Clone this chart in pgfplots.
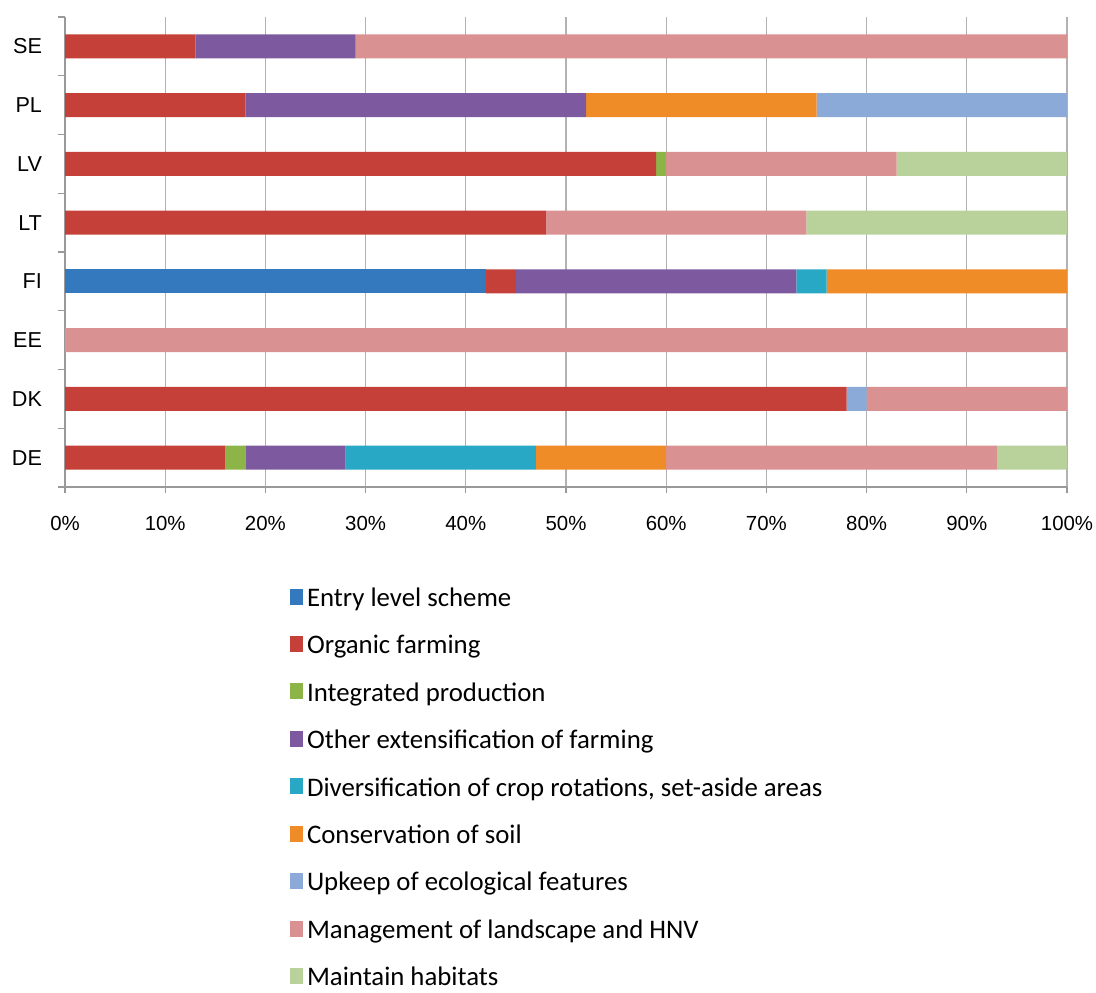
\documentclass[border=0pt]{standalone}
\usepackage{pgfplots}
\pgfplotsset{compat=1.18}
\usepackage{fontspec}
\setmainfont{Liberation Sans}
\newfontfamily\legfont{Carlito}
\definecolor{cEntry}{RGB}{52,120,190}
\definecolor{cOrg}{RGB}{196,64,56}
\definecolor{cInt}{RGB}{140,180,70}
\definecolor{cOth}{RGB}{125,90,160}
\definecolor{cDiv}{RGB}{40,168,196}
\definecolor{cSoil}{RGB}{240,140,40}
\definecolor{cUpk}{RGB}{140,170,215}
\definecolor{cLand}{RGB}{218,145,145}
\definecolor{cHab}{RGB}{185,210,155}
\begin{document}
\begin{tikzpicture}
\path[use as bounding box] (-32.5pt,-252.5pt) rectangle (515.5pt,243.5pt);
\begin{axis}[at={(0,0)}, anchor=south west, scale only axis,
  width=501pt, height=235pt,
  xbar stacked, bar width=12pt,
  xmin=0, xmax=100, ymin=-0.5, ymax=7.5,
  axis x line*=bottom, axis y line*=left,
  axis line style={draw=gray!80, line width=0.6pt},
  xtick={0,10,...,100},
  /pgf/number format/assume math mode=true,
  xticklabel={\pgfmathprintnumber{\tick}\%},
  xticklabel style={font=\fontsize{10.2}{12}\selectfont, yshift=-8pt},
  ytick={0,...,7}, yticklabels={DE,DK,EE,FI,LT,LV,PL,SE},
  yticklabel style={font=\fontsize{10.8}{12}\selectfont, xshift=-5pt},
  minor ytick={-0.5,0.5,...,7.5},
  major y tick style={draw=none},
  minor y tick style={draw=gray!80, line width=0.6pt},
  major x tick style={draw=gray!80, line width=0.6pt},
  tick align=outside, minor tick length=3.5pt, major tick length=3pt,
  xmajorgrids, grid style={draw=gray!60, line width=0.6pt},
  legend style={at={(0.2186,-0.197)}, anchor=north west, draw=none,
    font=\legfont\fontsize{13.4}{15}\selectfont, row sep=8.9pt,
    cells={anchor=west}},
  legend cell align=left,
  legend image code/.code={\fill[#1] (0pt,-3pt) rectangle (6.3pt,5pt);},
]
\addplot[fill=cEntry, draw=none] coordinates {(0,0) (0,1) (0,2) (42,3) (0,4) (0,5) (0,6) (0,7)};
\addplot[fill=cOrg, draw=none] coordinates {(16,0) (78,1) (0,2) (3,3) (48,4) (59,5) (18,6) (13,7)};
\addplot[fill=cInt, draw=none] coordinates {(2,0) (0,1) (0,2) (0,3) (0,4) (1,5) (0,6) (0,7)};
\addplot[fill=cOth, draw=none] coordinates {(10,0) (0,1) (0,2) (28,3) (0,4) (0,5) (34,6) (16,7)};
\addplot[fill=cDiv, draw=none] coordinates {(19,0) (0,1) (0,2) (3,3) (0,4) (0,5) (0,6) (0,7)};
\addplot[fill=cSoil, draw=none] coordinates {(13,0) (0,1) (0,2) (24,3) (0,4) (0,5) (23,6) (0,7)};
\addplot[fill=cUpk, draw=none] coordinates {(0,0) (2,1) (0,2) (0,3) (0,4) (0,5) (25,6) (0,7)};
\addplot[fill=cLand, draw=none] coordinates {(33,0) (20,1) (100,2) (0,3) (26,4) (23,5) (0,6) (71,7)};
\addplot[fill=cHab, draw=none] coordinates {(7,0) (0,1) (0,2) (0,3) (26,4) (17,5) (0,6) (0,7)};
\legend{Entry level scheme, Organic farming, Integrated production, Other extensification of farming, {Diversification of crop rotations, set-aside areas}, Conservation of soil, Upkeep of ecological features, Management of landscape and HNV, Maintain habitats}
\end{axis}
\end{tikzpicture}
\end{document}
